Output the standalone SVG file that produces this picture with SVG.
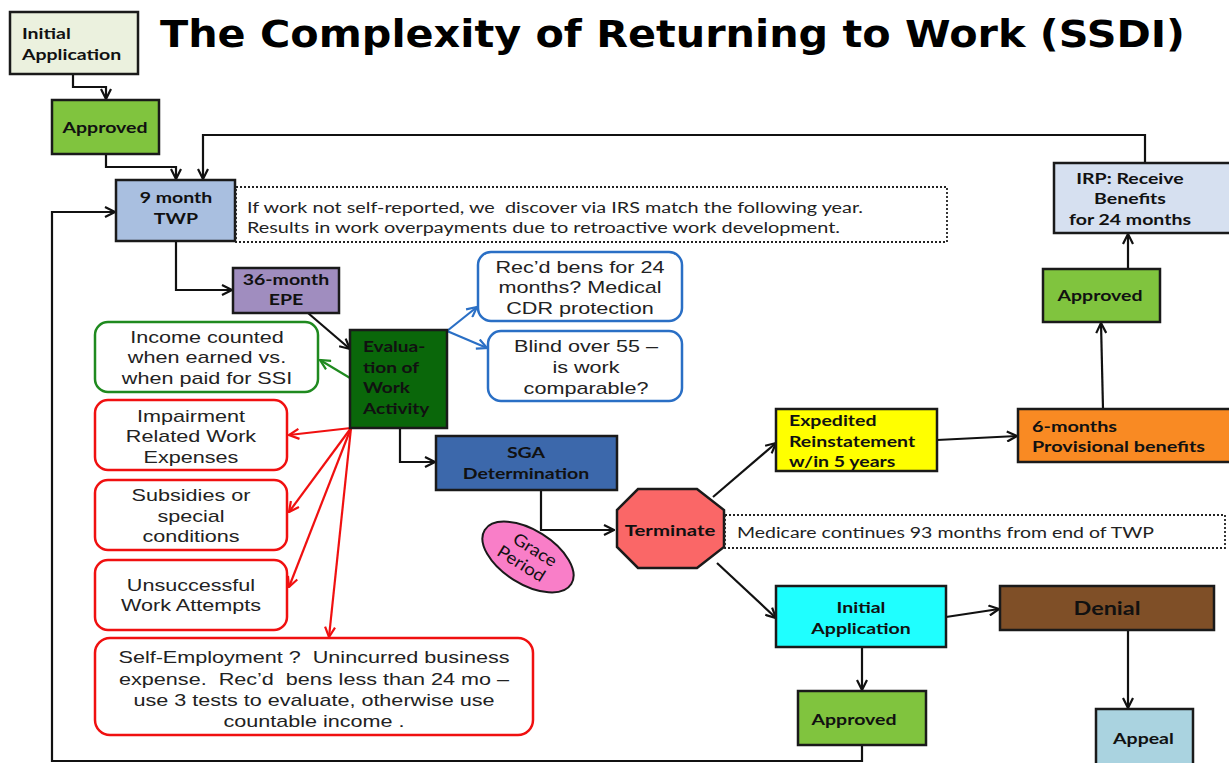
<svg xmlns="http://www.w3.org/2000/svg" width="1229" height="763" viewBox="0 0 1229 763">
<defs>
<style>
.box{stroke:#1a1a1a;stroke-width:2.5}
.lb{font-family:Lato,"Open Sans",sans-serif;font-weight:bold;font-size:15px;fill:#111}
.lc{text-anchor:middle}
.note{font-family:Lato,"Open Sans",sans-serif;font-size:15.5px;fill:#222;white-space:pre}
.ar{font-family:"Liberation Sans",Arial,sans-serif;font-size:17px;fill:#222;text-anchor:middle;white-space:pre}
.rr{fill:#fff;stroke-width:2.5}
.dot{fill:none;stroke:#222;stroke-width:1.8;stroke-dasharray:2 2}
.c{fill:none;stroke:#111;stroke-width:2.2}
.cg{fill:none;stroke:#1f8a1f;stroke-width:2.2}
.cb{fill:none;stroke:#2a6fc5;stroke-width:2.2}
.cr{fill:none;stroke:#f01010;stroke-width:2.2}
</style>
<marker id="a" viewBox="0 0 12 12" refX="11" refY="6" markerWidth="12" markerHeight="12" markerUnits="userSpaceOnUse" orient="auto"><path d="M1,1 L11,6 L1,11" fill="none" stroke="#111" stroke-width="2.2"/></marker>
<marker id="ag" viewBox="0 0 12 12" refX="11" refY="6" markerWidth="12" markerHeight="12" markerUnits="userSpaceOnUse" orient="auto"><path d="M1,1 L11,6 L1,11" fill="none" stroke="#1f8a1f" stroke-width="2.2"/></marker>
<marker id="ab" viewBox="0 0 12 12" refX="11" refY="6" markerWidth="12" markerHeight="12" markerUnits="userSpaceOnUse" orient="auto"><path d="M1,1 L11,6 L1,11" fill="none" stroke="#2a6fc5" stroke-width="2.2"/></marker>
<marker id="ar" viewBox="0 0 12 12" refX="11" refY="6" markerWidth="12" markerHeight="12" markerUnits="userSpaceOnUse" orient="auto"><path d="M1,1 L11,6 L1,11" fill="none" stroke="#f01010" stroke-width="2.2"/></marker>
</defs>
<rect width="1229" height="763" fill="#fff"/>
<text x="160" y="47" font-family="'DejaVu Sans',Verdana,sans-serif" font-weight="bold" font-size="37" textLength="1025" lengthAdjust="spacingAndGlyphs" fill="#000">The Complexity of Returning to Work (SSDI)</text>

<g id="connectors">
<path class="c" d="M73,74 V87 H106 V99" marker-end="url(#a)"/>
<path class="c" d="M106,154 V167 H176 V179" marker-end="url(#a)"/>
<path class="c" d="M1145,163 V135 H203 V179" marker-end="url(#a)"/>
<path class="c" d="M176,241 V290 H232" marker-end="url(#a)"/>
<path class="c" d="M308,313 L350,349" marker-end="url(#a)"/>
<path class="cg" d="M350,378 L320,360" marker-end="url(#ag)"/>
<path class="cb" d="M447,331 L477,307" marker-end="url(#ab)"/>
<path class="cb" d="M447,331 L487,348" marker-end="url(#ab)"/>
<path class="cr" d="M351,428 L289,435" marker-end="url(#ar)"/>
<path class="cr" d="M351,428 L289,512" marker-end="url(#ar)"/>
<path class="cr" d="M351,428 L289,587" marker-end="url(#ar)"/>
<path class="cr" d="M351,428 L329,637" marker-end="url(#ar)"/>
<path class="c" d="M400,428 V462 H435" marker-end="url(#a)"/>
<path class="c" d="M541,490 V530 H614" marker-end="url(#a)"/>
<path class="c" d="M713,497 L776,443" marker-end="url(#a)"/>
<path class="c" d="M937,440 L1017,436" marker-end="url(#a)"/>
<path class="c" d="M1103,409 L1101,323" marker-end="url(#a)"/>
<path class="c" d="M1128,269 V234" marker-end="url(#a)"/>
<path class="c" d="M717,563 L776,618" marker-end="url(#a)"/>
<path class="c" d="M946,617 L999,609" marker-end="url(#a)"/>
<path class="c" d="M1128,630 V708" marker-end="url(#a)"/>
<path class="c" d="M862,647 V690" marker-end="url(#a)"/>
<path class="c" d="M862,745 V761 H52 V212 H115" marker-end="url(#a)"/>
</g>

<g id="initial-top"><rect class="box" x="10" y="12" width="128" height="62" fill="#ebf1de"/>
<g transform="matrix(1.3,0,0,1,-6.6,0)"><text class="lb" x="22" y="39">Initial</text><text class="lb" x="22" y="60">Application</text></g></g>

<g id="approved-top"><rect class="box" x="52" y="100" width="107" height="54" fill="#80c43e"/>
<g transform="matrix(1.3,0,0,1,-31.5,0)"><text class="lb lc" x="105" y="133">Approved</text></g></g>

<g id="twp"><rect class="box" x="116" y="180" width="119" height="61" fill="#a9bfe0"/>
<g transform="matrix(1.3,0,0,1,-52.8,0)"><text class="lb lc" x="176" y="203">9 month</text><text class="lb lc" x="176" y="224">TWP</text></g></g>

<g id="irs-note"><rect class="dot" x="236" y="187" width="711" height="55"/>
<text class="note" x="247" y="213" textLength="616" lengthAdjust="spacingAndGlyphs">If work not self-reported, we  discover via IRS match the following year.</text>
<text class="note" x="247" y="233" textLength="593" lengthAdjust="spacingAndGlyphs">Results in work overpayments due to retroactive work development.</text></g>

<g id="epe"><rect class="box" x="233" y="268" width="106" height="45" fill="#a08dbf"/>
<g transform="matrix(1.3,0,0,1,-85.8,0)"><text class="lb lc" x="286" y="285">36-month</text><text class="lb lc" x="286" y="305">EPE</text></g></g>

<g id="eval"><rect class="box" x="350" y="330" width="97" height="98" fill="#0a670a"/>
<g transform="matrix(1.27,0,0,1,-98,0)"><text class="lb" x="363" y="352">Evalua-</text><text class="lb" x="363" y="373">tion of</text><text class="lb" x="363" y="393">Work</text><text class="lb" x="363" y="414">Activity</text></g></g>

<g id="income"><rect class="rr" x="95" y="322" width="223" height="70" rx="13" stroke="#1f8a1f"/>
<g transform="matrix(1.27,0,0,1,-55.9,0)"><text class="ar" x="207" y="343">Income counted</text><text class="ar" x="207" y="363">when earned vs.</text><text class="ar" x="207" y="384">when paid for SSI</text></g></g>

<g id="recd"><rect class="rr" x="478" y="252" width="204" height="69" rx="13" stroke="#2a6fc5"/>
<g transform="matrix(1.27,0,0,1,-156.6,0)"><text class="ar" x="580" y="273">Rec’d bens for 24</text><text class="ar" x="580" y="293">months? Medical</text><text class="ar" x="580" y="314">CDR protection</text></g></g>

<g id="blind"><rect class="rr" x="488" y="331" width="194" height="70" rx="13" stroke="#2a6fc5"/>
<g transform="matrix(1.27,0,0,1,-158.2,0)"><text class="ar" x="586" y="352">Blind over 55 –</text><text class="ar" x="586" y="373">is work</text><text class="ar" x="586" y="394">comparable?</text></g></g>

<g id="irwe"><rect class="rr" x="95" y="400" width="192" height="70" rx="13" stroke="#f01010"/>
<g transform="matrix(1.27,0,0,1,-51.57,0)"><text class="ar" x="191" y="422">Impairment</text><text class="ar" x="191" y="442">Related Work</text><text class="ar" x="191" y="463">Expenses</text></g></g>

<g id="subsidies"><rect class="rr" x="95" y="480" width="192" height="70" rx="13" stroke="#f01010"/>
<g transform="matrix(1.27,0,0,1,-51.57,0)"><text class="ar" x="191" y="501">Subsidies or</text><text class="ar" x="191" y="522">special</text><text class="ar" x="191" y="542">conditions</text></g></g>

<g id="uwa"><rect class="rr" x="95" y="560" width="192" height="70" rx="13" stroke="#f01010"/>
<g transform="matrix(1.27,0,0,1,-51.57,0)"><text class="ar" x="191" y="591">Unsuccessful</text><text class="ar" x="191" y="611">Work Attempts</text></g></g>

<g id="selfemp"><rect class="rr" x="95" y="638" width="438" height="97" rx="15" stroke="#f01010"/>
<g transform="matrix(1.27,0,0,1,-84.78,0)"><text class="ar" x="314" y="663">Self-Employment ?  Unincurred business</text><text class="ar" x="314" y="685">expense.  Rec’d  bens less than 24 mo –</text><text class="ar" x="314" y="706">use 3 tests to evaluate, otherwise use</text><text class="ar" x="314" y="727">countable income .</text></g></g>

<g id="sga"><rect class="box" x="436" y="436" width="181" height="54" fill="#3c68ab"/>
<g transform="matrix(1.3,0,0,1,-157.8,0)"><text class="lb lc" x="526" y="458">SGA</text><text class="lb lc" x="526" y="479">Determination</text></g></g>

<g id="grace"><ellipse cx="528" cy="557" rx="51" ry="27" transform="rotate(32 528 557)" fill="#f97ec8" stroke="#1a1a1a" stroke-width="2"/>
<g transform="rotate(32 528 557)"><g transform="matrix(1.1,0,0,1,-52.8,0)"><text class="lb lc" x="530" y="553" style="font-weight:normal;font-size:17px">Grace</text><text class="lb lc" x="526" y="572" style="font-weight:normal;font-size:17px">Period</text></g></g></g>

<g id="terminate"><polygon class="box" points="638,489 697,489 724,510 724,547 697,568 638,568 617,547 617,510" fill="#fa6767"/>
<g transform="matrix(1.36,0,0,1,-241.2,0)"><text class="lb lc" x="670" y="536">Terminate</text></g></g>

<g id="medicare"><rect class="dot" x="725" y="515" width="500" height="33"/>
<text class="note" x="737" y="538" textLength="417" lengthAdjust="spacingAndGlyphs">Medicare continues 93 months from end of TWP</text></g>

<g id="expedited"><rect class="box" x="776" y="409" width="161" height="62" fill="#ffff00"/>
<g transform="matrix(1.3,0,0,1,-236.7,0)"><text class="lb" x="789" y="426">Expedited</text><text class="lb" x="789" y="447">Reinstatement</text><text class="lb" x="789" y="467">w/in 5 years</text></g></g>

<g id="provisional"><rect class="box" x="1018" y="409" width="215" height="53" fill="#f98a23"/>
<g transform="matrix(1.32,0,0,1,-330.2,0)"><text class="lb" x="1032" y="432">6-months</text><text class="lb" x="1032" y="452">Provisional benefits</text></g></g>

<g id="approved-right"><rect class="box" x="1043" y="269" width="117" height="53" fill="#80c43e"/>
<g transform="matrix(1.3,0,0,1,-330,0)"><text class="lb lc" x="1100" y="301">Approved</text></g></g>

<g id="irp"><rect class="box" x="1054" y="163" width="180" height="70" fill="#d6e0f0"/>
<g transform="matrix(1.3,0,0,1,-339,0)"><text class="lb lc" x="1130" y="184">IRP: Receive</text><text class="lb lc" x="1130" y="204">Benefits</text><text class="lb lc" x="1130" y="225">for 24 months</text></g></g>

<g id="initial-bottom"><rect class="box" x="776" y="586" width="170" height="61" fill="#1fffff"/>
<g transform="matrix(1.3,0,0,1,-258.3,0)"><text class="lb lc" x="861" y="613">Initial</text><text class="lb lc" x="861" y="634">Application</text></g></g>

<g id="denial"><rect class="box" x="1000" y="586" width="214" height="44" fill="#7f4f27"/>
<g transform="matrix(1.3,0,0,1,-332.1,0)"><text class="lb lc" x="1107" y="615" style="font-size:18px">Denial</text></g></g>

<g id="approved-bottom"><rect class="box" x="798" y="691" width="128" height="54" fill="#80c43e"/>
<g transform="matrix(1.3,0,0,1,-256.2,0)"><text class="lb lc" x="854" y="725">Approved</text></g></g>

<g id="appeal"><rect class="box" x="1096" y="709" width="97" height="60" fill="#aad3e0"/>
<g transform="matrix(1.3,0,0,1,-343.1,0)"><text class="lb lc" x="1143.5" y="744">Appeal</text></g></g>
</svg>
